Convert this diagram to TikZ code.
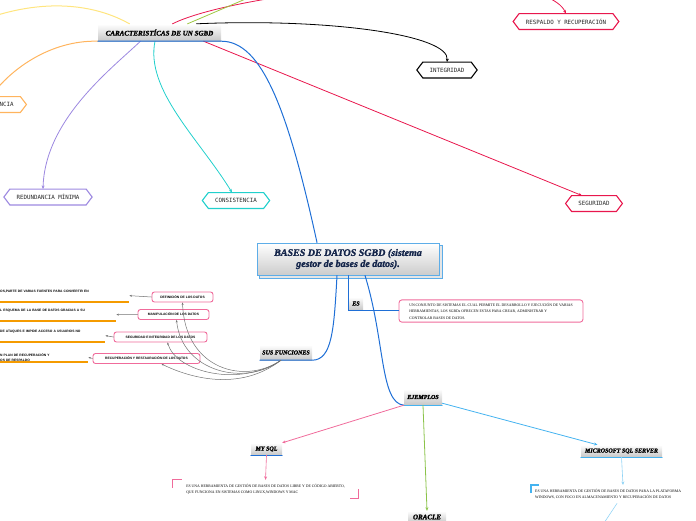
\documentclass[tikz,border=0pt]{standalone}
\usepackage{fontspec}
\setmainfont{Liberation Serif}
\newfontfamily\heavyf{Liberation Serif}[FakeBold=1.6]
\newfontfamily\monof{DejaVu Sans Mono}
\newfontfamily\sansf{Liberation Sans}
\usetikzlibrary{arrows.meta,backgrounds}
\definecolor{crim}{HTML}{E8174D}
\definecolor{pinkb}{HTML}{F06B9B}
\definecolor{purplec}{HTML}{9C88E0}
\definecolor{cyanc}{HTML}{22D0CC}
\definecolor{orangec}{HTML}{FFB45E}
\definecolor{yellowc}{HTML}{FFE57F}
\definecolor{greenc}{HTML}{9CC63F}
\definecolor{blueone}{HTML}{1F6FD6}
\definecolor{lblue}{HTML}{45B3F0}
\definecolor{lbluetwo}{HTML}{8FD3F5}
\definecolor{oragreen}{HTML}{8BC34A}
\definecolor{mainb}{HTML}{5DADE8}
\definecolor{navyc}{HTML}{14254A}
\definecolor{orline}{HTML}{F59B00}
\newcommand\hexframe[2]{\draw[#2,line width=1.1pt,line join=miter] (#1.west) -- ([xshift=6pt]#1.north west) -- ([xshift=-6pt]#1.north east) -- (#1.east) -- ([xshift=-6pt]#1.south east) -- ([xshift=6pt]#1.south west) -- cycle;}
\begin{document}
\begin{tikzpicture}[x=1pt,y=-1pt,line cap=round,
  arr/.style={-{Stealth[length=3.5pt,width=3pt]}},
  garr/.style={draw=black!55,line width=0.5pt,-{Stealth[length=2.5pt,width=2pt]}},
  hexn/.style={font=\monof\fontsize{5.8}{6}\selectfont,text=black!85,inner xsep=12.5pt,inner ysep=0pt,minimum height=15.5pt},
  topic/.style={top color=white,bottom color=black!22,font=\heavyf\bfseries\itshape\fontsize{6}{7}\selectfont,inner xsep=2pt,inner ysep=0pt},
  fbox/.style={draw=pinkb,line width=0.9pt,rounded corners=2.5pt,fill=white,font=\sansf\bfseries\fontsize{3.3}{4}\selectfont,inner xsep=2pt,inner ysep=0pt,minimum height=10pt},
  ltext/.style={font=\sansf\bfseries\fontsize{3.3}{4.8}\selectfont,anchor=south west,inner xsep=0pt,inner ysep=1pt,align=left,text width=#1},
  desc/.style={font=\fontsize{3.8}{6.5}\selectfont,align=left,inner xsep=4pt,inner ysep=3pt},
]
\useasboundingbox (0,0) rectangle (696,520);
\clip (0,0) rectangle (696,520);

% central nodes
\node[topic,minimum width=123pt,minimum height=17pt,font=\heavyf\bfseries\itshape\fontsize{7}{8}\selectfont] (car) at (159.5,32.5) {CARACTERISTÍCAS DE UN SGBD};
\node[draw=mainb,line width=1pt,top color=white,bottom color=black!20,minimum width=182pt,minimum height=32pt,align=center,text=navyc,font=\heavyf\bfseries\itshape\fontsize{10}{11}\selectfont,inner sep=0pt] (main) at (348,259) {BASES DE DATOS SGBD (sistema\\gestor de bases de datos).};
\begin{scope}[on background layer]
\draw[mainb,line width=0.8pt,fill=black!10] ([shift={(3,3)}]main.north west) rectangle ([shift={(3,3)}]main.south east);
\end{scope}

% hexagons
\node[hexn] (resp) at (566,21.5) {RESPALDO Y RECUPERACIÓN};
\hexframe{resp}{crim}
\node[hexn] (integ) at (447,70) {INTEGRIDAD};
\hexframe{integ}{black}
\node[hexn] (seg) at (594,203.5) {SEGURIDAD};
\hexframe{seg}{crim}
\node[hexn] (redu) at (48,197) {REDUNDANCIA MÍNIMA};
\hexframe{redu}{purplec}
\node[hexn] (cons) at (236,200.5) {CONSISTENCIA};
\hexframe{cons}{cyanc}
\node[hexn] (indep) at (-9,104.5) {INDEPENDENCIA};
\hexframe{indep}{orangec}

% connectors from caracteristicas
\coordinate (yel) at (-60,40);
\draw[yellowc,line width=1pt] ([xshift=-30pt]car.north) .. controls (80,-4) and (10,0) .. (yel);
\draw[orangec,line width=1pt,arr] (car.south west) .. controls (50,40) and (10,70) .. (indep.north);
\draw[purplec,line width=0.8pt,arr] ([xshift=-19pt]car.south) .. controls (110,70) and (45,120) .. ([xshift=-5pt]redu.north);
\draw[cyanc,line width=0.8pt,arr] ([xshift=-4.5pt]car.south) .. controls (145,90) and (200,140) .. ([xshift=-4pt]cons.north);
\draw[crim,line width=0.8pt,arr] ([xshift=44pt]car.south) -- ([xshift=-12pt]seg.north);
\draw[black,line width=0.8pt,arr] ([xshift=37pt]car.north) .. controls (330,18) and (450,35) .. (integ.north);
\draw[crim,line width=0.8pt,arr] ([xshift=13pt]car.north) .. controls (240,-10) and (540,-40) .. (resp.north);
\coordinate (grn) at (290,-20);
\draw[greenc,line width=0.8pt] ([xshift=28pt]car.north) -- (grn);
\draw[blueone,line width=1pt] ([xshift=-31pt]main.north) .. controls (288,110) and (262,41) .. (car.south east) -- (car.south west);

% sub topics
\node[topic,minimum width=52pt,minimum height=15pt] (sus) at (286,352.5) {SUS FUNCIONES};
\node[topic,minimum width=14pt,minimum height=13pt] (es) at (356,303.5) {ES};
\node[topic,minimum width=38pt,minimum height=16pt] (ej) at (423,397) {EJEMPLOS};
\node[topic,minimum width=31pt,minimum height=12pt] (mysql) at (266.5,449) {MY SQL};
\node[topic,minimum width=81pt,minimum height=12pt] (ms) at (621.5,451) {MICROSOFT SQL SERVER};
\node[topic,minimum width=38pt,minimum height=12pt,font=\heavyf\bfseries\itshape\fontsize{7}{8}\selectfont] (ora) at (427,517) {ORACLE};

\node[draw=pinkb,line width=0.9pt,rounded corners=3pt,fill=white,desc,minimum width=184pt,minimum height=22pt] (esd) at (491,311) {UN CONJUNTO DE SISTEMAS EL CUAL PERMITE EL DESARROLLO Y EJECUCIÓN DE VARIAS\\HERRAMIENTAS, LOS SGBDs OFRECEN ESTAS PARA CREAR, ADMINISTRAR Y\\CONTROLAR BASES DE DATOS.};

\draw[blueone,line width=1pt] ([xshift=-11pt]main.south) .. controls (334,330) and (332,360) .. (sus.south east) -- (sus.south west);
\draw[blueone,line width=1pt] (main.south -| es.west) -- (es.south west) -- (es.south west -| esd.west);
\draw[blueone,line width=1pt] ([xshift=17pt]main.south) .. controls (385,340) and (380,403) .. (ej.south west);

\draw[lblue,line width=1pt] (ej.south west) -- (ej.south east);
\draw[blueone,line width=1pt] (mysql.south west) -- (mysql.south east);
\draw[lblue,line width=1pt] (ms.south west) -- (ms.south east);
\draw[pinkb,line width=0.8pt,arr] (ej.south west) -- (mysql.north east);
\draw[oragreen,line width=0.8pt,arr] (ej.south) -- (ora.north);
\draw[lblue,line width=0.8pt,arr] ([yshift=2pt]ej.south east) -- ([xshift=-24pt]ms.north);

% descriptions of examples
\node[desc,minimum width=185pt,minimum height=18pt] (myt) at (265.5,489) {ES UNA HERRAMIENTA DE GESTIÓN DE BASES DE DATOS LIBRE Y DE CÓDIGO ABIERTO,\\QUE FUNCIONA EN SISTEMAS COMO LINUX,WINDOWS Y MAC};
\draw[pinkb,line width=1.2pt,line cap=butt] ([yshift=-8pt]myt.north west) -- (myt.north west) -- ([xshift=9pt]myt.north west);
\draw[pinkb,line width=1.2pt,line cap=butt] ([xshift=-8pt]myt.south east) -- (myt.south east) -- ([yshift=9pt]myt.south east);
\draw[pinkb,line width=0.6pt,arr] (mysql.south) -- (myt.north);

\node[desc,anchor=north west,minimum height=18pt] (mst) at (531,485) {ES UNA HERRAMIENTA DE GESTIÓN DE BASES DE DATOS PARA LA PLATAFORMA\\WINDOWS, CON FOCO EN ALMACENAMIENTO Y RECUPERACIÓN DE DATOS};
\draw[lblue,line width=1.2pt,line cap=butt] ([yshift=-8pt]mst.north west) -- (mst.north west) -- ([xshift=8pt]mst.north west);
\draw[lbluetwo,line width=0.6pt,arr] (ms.south) -- ([xshift=92pt]mst.north west);
\coordinate (msend) at (596,535);
\draw[lbluetwo,line width=0.6pt] ([xshift=86pt]mst.south west) -- (msend);

% functions
\node[fbox,minimum width=61pt] (def) at (182.5,297) {DEFINICIÓN DE LOS DATOS};
\node[fbox,minimum width=71pt] (man) at (173.5,314.5) {MANIPULACIÓN DE LOS DATOS};
\node[fbox,minimum width=93pt] (sid) at (160.5,337) {SEGURIDAD E INTEGRIDAD DE LOS DATOS};
\node[fbox,minimum width=107pt] (rec) at (146.5,358.5) {RECUPERACIÓN Y RESTAURACIÓN DE LOS DATOS};

\draw[garr] ([xshift=-5pt]sus.south) .. controls (245,385) and (185,370) .. (def.south);
\draw[garr] ([xshift=-5pt]sus.south) .. controls (245,387) and (182,372) .. ([xshift=3pt]man.south);
\draw[garr] ([xshift=-5pt]sus.south) .. controls (240,388) and (176,372) .. ([xshift=7pt]sid.south);
\draw[garr] ([xshift=-5pt]sus.south) .. controls (240,392) and (190,378) .. ([xshift=15pt]rec.south);

% left texts
\node[ltext=129pt,text depth=8pt] (t1) at (0,302) {OS,PARTE DE VARIAS FUENTES PARA CONVERTIR EN};
\node[ltext=116pt,text depth=8pt] (t2) at (0,321) {L ESQUEMA DE LA BASE DE DATOS GRACIAS A SU};
\node[ltext=105pt,text depth=8pt] (t3) at (0,342) {DE ATAQUES E IMPIDE ACCESO A USUARIOS NO};
\node[ltext=88pt,text depth=4pt] (t4) at (0,362) {N PLAN DE RECUPERACIÓN Y\\OS DE RESPALDO};
\foreach \t in {t1,t2,t3,t4}{\draw[orline,line width=1.2pt,line cap=butt] (\t.south west) -- (\t.south east);}
\draw[garr] (def.west) -- (t1.east);
\draw[garr] (man.west) -- (t2.east);
\draw[garr] (sid.west) -- (t3.east);
\draw[garr] (rec.west) -- (t4.east);
\end{tikzpicture}
\end{document}
